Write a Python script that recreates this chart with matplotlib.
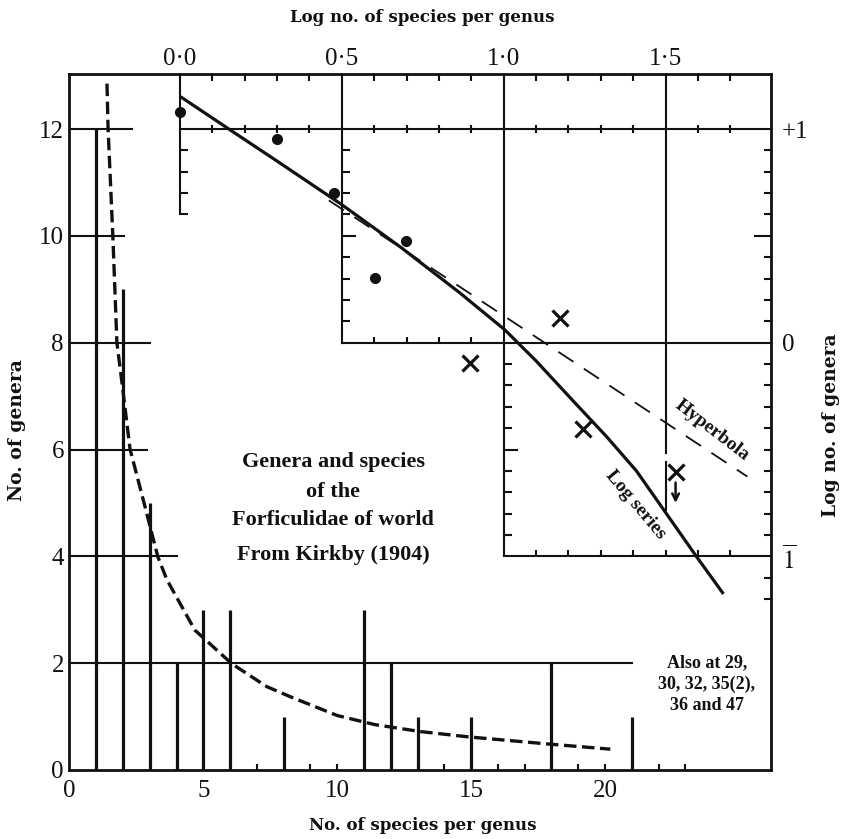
import matplotlib
matplotlib.use('Agg')
import matplotlib.pyplot as plt
import numpy as np

plt.rcParams['font.family'] = ['Liberation Serif', 'DejaVu Serif']
plt.rcParams['mathtext.fontset'] = 'stix'
plt.rcParams['lines.scale_dashes'] = False

INK = '#111111'

# number of genera with a given number of species
species = [1, 2, 3, 4, 5, 6, 8, 11, 12, 13, 15, 18, 21]
genera = [12, 9, 5, 2, 3, 3, 1, 3, 2, 1, 1, 2, 1]

# fitted curve on the arithmetic scale
curve_x = [1.40, 1.44, 1.62, 1.77, 1.96, 2.26, 2.82, 3.30, 3.64, 4.68, 6.06,
           7.37, 8.35, 10.0, 11.4, 13.1, 14.9, 17.8, 20.2]
curve_y = [12.85, 12.02, 9.98, 8.00, 7.25, 6.01, 4.93, 3.99, 3.56, 2.62, 1.99,
           1.56, 1.35, 1.02, 0.85, 0.72, 0.62, 0.49, 0.39]

# log-log: single classes as dots, grouped classes as crosses
dot_species = [1, 2, 3, 4, 5]
dot_genera = [12, 9, 5, 2, 3]
cross_logx = [0.895, 1.173, 1.244, 1.531]
cross_logy = [-0.093, 0.117, -0.402, -0.603]

# log series and hyperbola in log-log units
logser_x = [0.006, 0.154, 0.30, 0.50, 0.68, 0.864, 1.003, 1.10, 1.213, 1.318,
            1.410, 1.491, 1.596, 1.676]
logser_y = [1.147, 0.997, 0.85, 0.646, 0.449, 0.234, 0.061, -0.085, -0.270,
            -0.440, -0.600, -0.775, -1.002, -1.170]
hyper_x = [0.46, 1.753]
hyper_y = [0.666, -0.627]

bottom_ticks = [0, 5, 10, 15, 20]
left_ticks = [0, 2, 4, 6, 8, 10, 12]
top_ticks = [0.0, 0.5, 1.0, 1.5]
top_labels = ['0·0', '0·5', '1·0', '1·5']
right_ticks = [1, 0, -1]
right_labels = ['+1', '0', r'$\overline{1}$']

# horizontal rules on the arithmetic plot and how far they run
grid_levels = [2, 4, 6, 8, 10, 12]
grid_ends = [21.0, 4.0, 2.9, 3.0, 2.05, 2.33]

X_MAX = 26.2
Y_MAX = 13.03
LX0 = -0.341      # log x at arithmetic x = 0
LX_PER = 0.0827   # log units per arithmetic unit
lx_lo, lx_hi = LX0, LX0 + LX_PER * X_MAX
ly_lo, ly_hi = (0 - 8) / 4, (Y_MAX - 8) / 4

fig = plt.figure(figsize=(8.45, 8.39), dpi=100)
pos = [69.5 / 845, 1 - 770 / 839, 701.5 / 845, 696 / 839]
ax = fig.add_axes(pos)
ax.set_xlim(0, X_MAX)
ax.set_ylim(0, Y_MAX)

ax.vlines(species, 0, genera, color=INK, lw=2.3)
ax.plot(curve_x, curve_y, color=INK, lw=2.4, dashes=(9, 4))
for lev, xe in zip(grid_levels, grid_ends):
    ax.plot([0, xe], [lev, lev], color=INK, lw=1.5)
ax.plot(range(1, 24), [0] * 23, ls='none', marker=2, ms=4, mew=1.5,
        color=INK, clip_on=False)

ax.set_xticks(bottom_ticks)
ax.set_yticks(left_ticks)
ax.tick_params(length=0, labelsize=18, colors=INK)
ax.tick_params(axis='x', pad=7)
ax.tick_params(axis='y', pad=4)
for s in ax.spines.values():
    s.set_linewidth(2)
    s.set_color(INK)

# log-log overlay sharing the same frame
lg = fig.add_axes(pos)
lg.patch.set_visible(False)
for s in lg.spines.values():
    s.set_visible(False)
lg.set_xlim(lx_lo, lx_hi)
lg.set_ylim(ly_lo, ly_hi)
lg.set_xticks(top_ticks)
lg.set_xticklabels(top_labels)
lg.set_yticks(right_ticks)
lg.set_yticklabels(right_labels)
lg.tick_params(bottom=False, left=False, labelbottom=False, labelleft=False,
               top=True, right=True, labeltop=True, labelright=True,
               length=0, labelsize=18, colors=INK)
lg.tick_params(axis='x', pad=3)
lg.tick_params(axis='y', pad=8)

tenths = [round(v, 1) for v in np.arange(0.1, 1.75, 0.1)]
minor_x = [v for v in tenths if v not in (0.5, 1.0, 1.5)]


def ticks(xs, ys, marker, ms=5):
    lg.plot(xs, ys, ls='none', marker=marker, ms=ms, mew=1.5, color=INK,
            clip_on=False)


# ticks under the top spine and inside the right spine
ticks(minor_x, [ly_hi] * len(minor_x), 3)
right_y = [0.9, 0.8, 0.7, 0.6, 0.4, 0.3, 0.2, 0.1, -0.1, -0.2, -0.3, -0.4,
           -0.5, -0.6, -0.7, -0.8, -0.9, -1.1, -1.2]
ticks([lx_hi] * len(right_y), right_y, 0)
ticks([lx_hi], [0.5], 0, ms=12)

# stepped frame of the log-log plot
rule = dict(color=INK, lw=1.5)
lg.plot([0, 0], [ly_hi, 0.6], **rule)
ticks([0] * 4, [0.9, 0.8, 0.7, 0.6], 1, ms=6)
lg.plot([0.5, 0.5], [ly_hi, 0], **rule)
ticks([0.5] * 8, [0.9, 0.8, 0.7, 0.6, 0.4, 0.3, 0.2, 0.1], 1, ms=6)
ticks([0.5], [0.5], 1, ms=10)
lg.plot([1.0, 1.0], [ly_hi, -1], **rule)
ticks([1.0] * 8, [-0.1, -0.2, -0.3, -0.4, -0.6, -0.7, -0.8, -0.9], 1, ms=6)
ticks([1.0], [-0.5], 1, ms=10)
lg.plot([1.5, 1.5], [ly_hi, -0.515], **rule)
lg.plot([1.5, 1.5], [-0.557, -0.782], **rule)
lg.plot([0, lx_hi], [1, 1], **rule)
ticks(minor_x, [1] * len(minor_x), '|', ms=6)
lg.plot([0.5, lx_hi], [0, 0], **rule)
ticks([0.6, 0.7, 0.8, 0.9], [0] * 4, 2, ms=4)
lg.plot([1.0, lx_hi], [-1, -1], **rule)
ticks([1.1, 1.2, 1.3, 1.4, 1.5, 1.6, 1.7], [-1] * 7, 2, ms=4)

lg.plot(logser_x, logser_y, color=INK, lw=2.3)
lg.plot(hyper_x, hyper_y, color=INK, lw=1.3, dashes=(13, 9))
lg.plot(np.log10(dot_species), np.log10(dot_genera), 'o', ms=7, color=INK)
lg.plot(cross_logx, cross_logy, 'x', ms=11, mew=2.3, color=INK)
lg.annotate('', xy=(cross_logx[3], -0.75), xytext=(cross_logx[3], -0.655),
            arrowprops=dict(arrowstyle='->', lw=1.8, color=INK,
                            mutation_scale=12, shrinkA=0, shrinkB=0))

lg.text(1.645, -0.412, 'Hyperbola', rotation=-37.6, rotation_mode='anchor',
        ha='center', va='center', fontsize=14, fontweight='bold', color=INK)
lg.text(1.407, -0.758, 'Log series', rotation=-50, rotation_mode='anchor',
        ha='center', va='center', fontsize=14, fontweight='bold', color=INK)

# caption inside the plot
for txt, yv in zip(['Genera and species', 'of the', 'Forficulidae of world',
                    'From Kirkby (1904)'], [5.77, 5.21, 4.68, 4.03]):
    ax.text(9.85, yv, txt, ha='center', va='center', fontsize=16,
            fontweight='bold', color=INK)
ax.text(23.8, 1.61, 'Also at 29,\n30, 32, 35(2),\n36 and 47', ha='center',
        va='center', fontsize=13, fontweight='bold', linespacing=1.35,
        color=INK)

title_font = dict(family='DejaVu Serif', fontweight='bold', color=INK)
fig.text(0.5, 1 - 18 / 839, 'Log no. of species per genus', ha='center',
         va='center', fontsize=12, **title_font)
fig.text(0.5, 1 - 825 / 839, 'No. of species per genus', ha='center',
         va='center', fontsize=12, **title_font)
fig.text(17 / 845, 1 - 430 / 839, 'No. of genera', rotation=90, ha='center',
         va='center', fontsize=13.5, **title_font)
fig.text(831 / 845, 1 - 425 / 839, 'Log no. of genera', rotation=90,
         ha='center', va='center', fontsize=13.5, **title_font)

fig.savefig('out.png', dpi=100)
